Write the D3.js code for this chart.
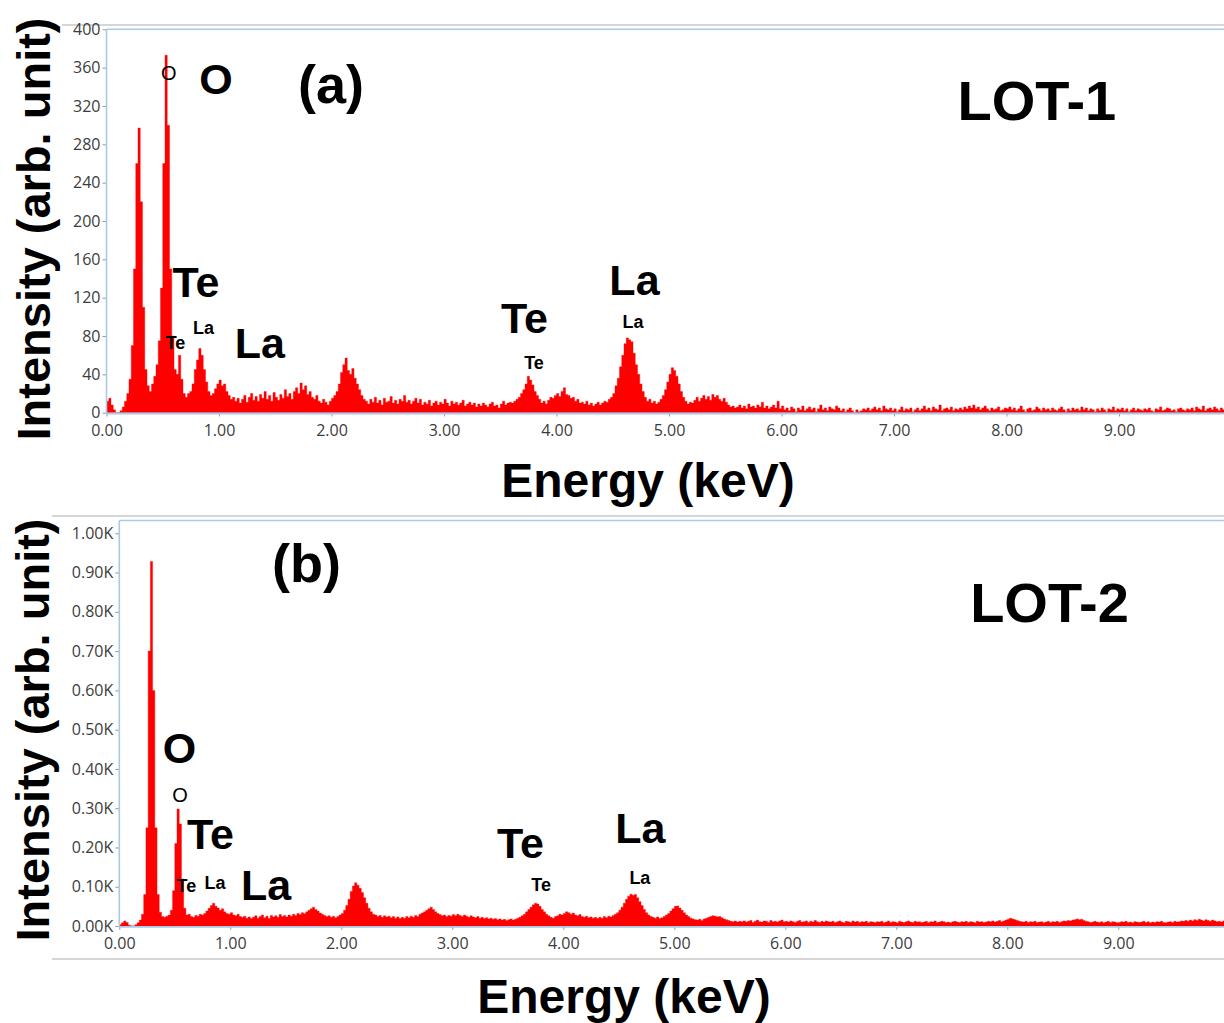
<!DOCTYPE html>
<html><head><meta charset="utf-8">
<script src="https://cdn.jsdelivr.net/npm/d3@7"></script>
<style>body{margin:0;background:#fff}svg{display:block}</style>
</head><body><svg id="c" width="1224" height="1023"></svg>
<script>
// ---------------- DATA ----------------
const energyStep = 0.02; // keV per channel
const energyTicks = [0,1,2,3,4,5,6,7,8,9];
const lot1TickValues = [0,40,80,120,160,200,240,280,320,360,400];
const lot2TickValues = [0,100,200,300,400,500,600,700,800,900,1000];

const lot1Counts = [
 12,15,8,3,0,0,2,6,12,20,
 35,70,150,260,297,220,110,45,28,22,
 30,38,50,75,130,260,373,300,150,80,
 45,40,60,35,20,16,20,22,30,45,
 55,67,60,45,32,22,18,20,25,30,
 34,28,30,22,18,14,16,12,15,10,
 14,18,11,16,20,13,17,12,19,15,
 22,14,18,12,21,16,13,19,15,24,
 17,20,14,22,26,20,31,24,28,19,
 22,16,14,18,12,10,14,11,8,12,
 15,18,22,30,42,50,57,44,40,46,
 36,30,24,18,14,12,9,14,11,16,
 10,13,8,15,11,12,17,10,13,9,
 14,12,18,11,13,9,12,15,10,14,
 8,11,9,13,7,10,12,8,11,9,
 14,10,7,12,9,11,8,10,13,7,
 9,11,8,10,6,9,7,10,8,6,
 9,11,7,8,5,9,12,8,10,11,
 10,12,14,16,20,24,30,38,34,29,
 22,18,14,10,12,9,13,16,15,18,
 20,17,22,26,19,18,15,16,12,14,
 10,11,9,12,8,10,7,9,11,8,
 10,12,11,14,16,20,28,36,48,60,
 72,78,76,74,62,50,40,30,22,16,
 12,14,10,12,9,11,14,18,24,32,
 40,47,44,38,30,22,16,12,9,11,
 10,13,16,12,15,18,14,17,13,19,
 16,18,14,12,15,11,8,6,7,5,
 6,8,5,7,4,9,6,7,5,8,
 6,11,5,7,4,6,8,5,12,4,
 7,3,5,2,6,4,1,5,3,7,
 2,4,6,3,5,1,4,8,3,5,
 2,6,4,3,7,5,2,4,1,3,
 5,2,0,3,1,2,4,3,5,2,
 4,6,3,5,2,7,4,3,5,2,
 4,1,3,6,2,4,3,5,1,3,
 5,2,4,7,3,5,2,6,4,3,
 8,2,4,5,3,6,2,4,3,5,
 3,6,4,7,5,8,4,6,3,5,
 7,4,2,5,3,4,6,2,3,5,
 4,6,3,5,2,4,7,3,1,4,
 5,2,3,6,4,2,5,3,4,2,
 5,3,2,4,6,3,1,4,2,5,
 3,4,2,6,3,5,2,4,3,1,
 4,2,5,3,1,4,3,6,2,4,
 3,5,2,4,1,3,5,2,4,3,
 2,4,3,5,2,1,4,3,6,2,
 3,5,4,2,3,1,4,5,3,2,
 4,3,5,2,6,4,3,7,2,4,
 5,3,6,4,2,5,3,4,6,3
];

const lot2Counts = [
 4,8,13,9,2,0,0,3,8,15,
 30,80,250,700,928,600,250,80,35,24,
 22,25,28,40,90,210,298,260,120,45,
 28,30,24,22,27,25,30,28,32,38,
 45,52,58,50,46,40,44,36,32,30,
 34,28,26,30,24,22,25,20,23,19,
 22,26,20,24,28,21,25,19,27,23,
 26,22,29,24,27,23,28,25,30,27,
 32,29,34,31,36,40,44,48,42,38,
 33,30,27,24,26,22,25,21,24,28,
 32,40,52,68,88,102,110,104,96,85,
 72,58,45,36,30,28,24,27,22,26,
 23,25,21,24,20,23,19,22,20,24,
 21,25,22,27,24,30,33,36,40,44,
 48,42,36,32,29,26,28,24,27,25,
 29,26,30,27,24,28,25,22,26,23,
 21,24,20,22,19,21,18,20,17,19,
 16,18,15,17,14,16,18,15,17,20,
 22,26,30,36,42,48,54,58,56,50,
 42,36,30,26,22,20,24,26,30,28,
 32,36,34,30,33,28,26,29,24,22,
 25,21,23,20,22,19,22,20,24,21,
 25,23,27,30,34,40,48,58,68,76,
 81,78,80,72,62,52,42,34,28,24,
 22,20,23,19,21,24,28,32,38,44,
 50,51,46,40,34,28,24,20,18,16,
 15,17,14,18,20,22,24,26,25,23,
 24,21,18,16,14,12,11,13,10,12,
 11,13,10,12,14,9,12,15,11,10,
 13,12,9,14,11,12,10,13,15,11,
 12,10,13,11,9,12,14,10,11,13,
 9,12,10,14,11,9,12,10,13,11,
 10,12,9,11,13,10,8,12,11,9,
 13,10,12,9,11,10,12,8,11,10,
 9,11,10,12,8,10,13,9,11,10,
 8,12,10,9,11,13,10,9,12,10,
 11,9,10,12,8,11,10,13,9,10,
 12,11,9,10,8,11,12,10,9,11,
 10,12,9,11,10,8,12,10,11,9,
 10,12,11,13,10,12,14,11,13,15,
 17,20,18,16,14,12,11,10,12,9,
 11,10,12,9,10,11,8,10,12,9,
 11,10,12,9,11,13,12,14,13,15,
 16,18,16,17,14,12,11,9,10,12,
 10,9,11,8,10,12,9,11,10,8,
 9,11,10,12,9,10,8,11,10,9,
 10,12,9,11,8,10,9,11,10,12,
 9,8,10,11,9,12,10,11,13,12,
 14,12,15,13,16,14,17,15,13,16,
 14,12,15,13,11,12,10,13,11,12
];

// annotations, anchored in data units (energy keV, intensity)
const lot1Notes = [
 {text:"O", e:0.553, v:347, role:"line"},
 {text:"O", e:0.973, v:333, role:"element"},
 {text:"(a)", e:1.996, v:323, role:"panel"},
 {text:"LOT-1", e:8.27, v:305, role:"sample"},
 {text:"Te", e:0.796, v:121, role:"element"},
 {text:"Te", e:0.613, v:66, role:"line"},
 {text:"La", e:0.862, v:82, role:"line"},
 {text:"La", e:1.364, v:57, role:"element"},
 {text:"Te", e:3.716, v:83, role:"element"},
 {text:"Te", e:3.80, v:46, role:"line"},
 {text:"La", e:4.693, v:123, role:"element"},
 {text:"La", e:4.68, v:88, role:"line"}
];
const lot2Notes = [
 {text:"(b)", e:1.686, v:876, role:"panel"},
 {text:"LOT-2", e:8.38, v:774, role:"sample"},
 {text:"O", e:0.542, v:415, role:"element"},
 {text:"O", e:0.547, v:316, role:"line"},
 {text:"Te", e:0.822, v:196, role:"element"},
 {text:"Te", e:0.605, v:87, role:"line"},
 {text:"La", e:0.862, v:94, role:"line"},
 {text:"La", e:1.322, v:66, role:"element"},
 {text:"Te", e:3.614, v:173, role:"element"},
 {text:"Te", e:3.80, v:89, role:"line"},
 {text:"La", e:4.695, v:211, role:"element"},
 {text:"La", e:4.69, v:107, role:"line"}
];

// ---------------- LAYOUT / STYLE ----------------
const W = 1224, H = 1023;
const svg = d3.select("#c");
svg.append("rect").attr("width", W).attr("height", H).attr("fill", "#fff");

const noteStyle = {
  line:    {size: 18, weight: "bold", family: "'Liberation Sans', Arial, sans-serif"},
  element: {size: 43, weight: "bold", family: "'Liberation Sans', Arial, sans-serif"},
  panel:   {size: 54, weight: "bold", family: "'Liberation Sans', Arial, sans-serif"},
  sample:  {size: 56, weight: "bold", family: "'Liberation Sans', Arial, sans-serif"}
};

const panels = [
  {id:"a", counts: lot1Counts, ticks: lot1TickValues, notes: lot1Notes, yMax: 400,
   x0: 106.5, pxPerKeV: 112.5, yBottom: 412.7, yTopVal: 29.3, frameTop: 29.3,
   greyTop: 25, greyLeft: 62, greyBottom: null,
   fmt: d => String(d),
   xLabel: {x: 648, y: 497}, yLabel: {x: 50, y: 229}},
  {id:"b", counts: lot2Counts, ticks: lot2TickValues, notes: lot2Notes, yMax: 1000,
   x0: 119.3, pxPerKeV: 111, yBottom: 926, yTopVal: 533.3, frameTop: 520.5,
   greyTop: 516, greyLeft: 52, greyBottom: 959,
   fmt: d => (d/1000).toFixed(2) + "K",
   xLabel: {x: 624, y: 1013}, yLabel: {x: 49, y: 730}}
];

const frameColor = "#a9c9e6";
const tickTextColor = "#3c3c3c";
const tickFont = "'Open Sans', 'Noto Sans', sans-serif";

panels.forEach(p => {
  const g = svg.append("g");
  const x = d3.scaleLinear().domain([0, 10]).range([p.x0, p.x0 + 10 * p.pxPerKeV]);
  const y = d3.scaleLinear().domain([0, p.yMax]).range([p.yBottom, p.yTopVal]);

  g.append("line").attr("x1", p.greyLeft).attr("x2", W).attr("y1", p.greyTop).attr("y2", p.greyTop)
    .attr("stroke", "#d6d6d6").attr("stroke-width", 2);
  if (p.greyBottom) {
    g.append("line").attr("x1", p.greyLeft).attr("x2", W).attr("y1", p.greyBottom).attr("y2", p.greyBottom)
      .attr("stroke", "#d6d6d6").attr("stroke-width", 2);
  }

  const clipId = "clip-" + p.id;
  svg.append("clipPath").attr("id", clipId).append("rect")
    .attr("x", p.x0).attr("y", p.frameTop).attr("width", W - p.x0).attr("height", p.yBottom - p.frameTop + 1);

  const pts = p.counts.map((c, i) => ({e: i * energyStep, c}));
  pts.push({e: p.counts.length * energyStep, c: p.counts[p.counts.length - 1]});
  const area = d3.area().x(d => x(d.e)).y0(y(0)).y1(d => y(d.c)).curve(d3.curveStepAfter);
  g.append("path").datum(pts).attr("clip-path", `url(#${clipId})`)
    .attr("d", area).attr("fill", "#ff0000").attr("stroke", "#ff0000").attr("stroke-width", 0.4);

  g.append("line").attr("x1", p.x0).attr("x2", W).attr("y1", p.frameTop).attr("y2", p.frameTop)
    .attr("stroke", frameColor).attr("stroke-width", 1.6);

  const ya = g.append("g").attr("transform", `translate(${p.x0},0)`)
    .call(d3.axisLeft(y).tickValues(p.ticks).tickFormat(p.fmt).tickSize(4).tickSizeOuter(0).tickPadding(2));
  ya.select(".domain").remove();
  g.append("line").attr("x1", p.x0).attr("x2", p.x0).attr("y1", p.frameTop).attr("y2", p.yBottom + 1)
    .attr("stroke", frameColor).attr("stroke-width", 1.6);
  ya.selectAll(".tick line").attr("stroke", "#8a9bb0");
  ya.selectAll(".tick text").attr("fill", tickTextColor).style("font-family", tickFont).style("font-size", "16px");

  const xa = g.append("g").attr("transform", `translate(0,${p.yBottom + 0.8})`)
    .call(d3.axisBottom(x).tickValues(energyTicks).tickFormat(d3.format(".2f")).tickSize(3).tickSizeOuter(0).tickPadding(8));
  xa.select(".domain").remove();
  g.append("line").attr("x1", p.x0).attr("x2", W).attr("y1", p.yBottom + 0.8).attr("y2", p.yBottom + 0.8)
    .attr("stroke", frameColor).attr("stroke-width", 1.8);
  xa.selectAll(".tick line").attr("stroke", "#8a9bb0");
  xa.selectAll(".tick text").attr("fill", tickTextColor).style("font-family", tickFont).style("font-size", "16px");

  g.selectAll("text.note").data(p.notes).enter().append("text").attr("class", "note")
    .attr("x", d => x(d.e)).attr("y", d => y(d.v))
    .attr("text-anchor", "middle")
    .style("font-family", d => noteStyle[d.role].family)
    .style("font-size", d => (d.role === "line" && d.text === "O" ? 20 : noteStyle[d.role].size) + "px")
    .style("font-weight", d => d.role === "line" && d.text === "O" ? "normal" : noteStyle[d.role].weight)
    .attr("fill", "#000")
    .text(d => d.text);

  g.append("text").attr("x", p.xLabel.x).attr("y", p.xLabel.y).attr("text-anchor", "middle")
    .style("font-family", "'Liberation Sans', Arial, sans-serif").style("font-weight", "bold").style("font-size", "48px")
    .attr("fill", "#000").text("Energy (keV)");
  g.append("text").attr("transform", `translate(${p.yLabel.x},${p.yLabel.y}) rotate(-90)`).attr("text-anchor", "middle")
    .style("font-family", "'Liberation Sans', Arial, sans-serif").style("font-weight", "bold").style("font-size", "47px")
    .attr("fill", "#000").text("Intensity (arb. unit)");
});
</script>
</body></html>
